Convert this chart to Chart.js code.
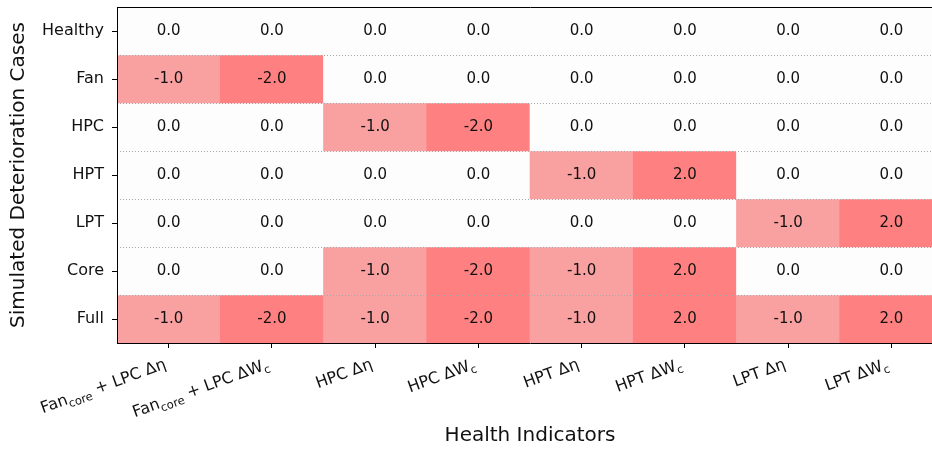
<!DOCTYPE html>
<html><head><meta charset="utf-8">
<script src="https://cdn.jsdelivr.net/npm/chart.js@4.4.0/dist/chart.umd.min.js"></script>
<style>html,body{margin:0;padding:0;background:#fff;overflow:hidden}#wrap{width:932px;height:454px;overflow:hidden}</style>
</head><body><div id="wrap"><canvas id="c" width="943" height="454"></canvas></div>
<script>
// ---- data ----
const cases = ['Healthy','Fan','HPC','HPT','LPT','Core','Full'];
const indicators = ['Fan_{core} + LPC Δη','Fan_{core} + LPC ΔW_{c}','HPC Δη','HPC ΔW_{c}','HPT Δη','HPT ΔW_{c}','LPT Δη','LPT ΔW_{c}'];
const healthy = [0,0,0,0,0,0,0,0];
const fan     = [-1,-2,0,0,0,0,0,0];
const hpc     = [0,0,-1,-2,0,0,0,0];
const hpt     = [0,0,0,0,-1,2,0,0];
const lpt     = [0,0,0,0,0,0,-1,2];
const core    = [0,0,-1,-2,-1,2,0,0];
const full    = [-1,-2,-1,-2,-1,2,-1,2];
const rows = [healthy, fan, hpc, hpt, lpt, core, full];

// ---- style ----
const FONT = '"DejaVu Sans", sans-serif';
const C_ZERO = '#fdfdfd', C_ONE = 'rgb(249,160,160)', C_TWO = 'rgb(255,128,128)';
const colorFor = v => v === 0 ? C_ZERO : (Math.abs(v) === 1 ? C_ONE : C_TWO);

function parseLabel(s) {
  const segs = []; const re = /_\{([^}]*)\}/g; let last = 0, m;
  while ((m = re.exec(s))) {
    if (m.index > last) segs.push({t: s.slice(last, m.index), sub: false});
    segs.push({t: m[1], sub: true}); last = re.lastIndex;
  }
  if (last < s.length) segs.push({t: s.slice(last), sub: false});
  return segs;
}

const cellText = {
  id: 'cellText',
  afterDatasetsDraw(chart) {
    const ctx = chart.ctx; ctx.save();
    ctx.font = '15px ' + FONT; ctx.fillStyle = '#111';
    ctx.textAlign = 'center'; ctx.textBaseline = 'middle';
    chart.data.datasets.forEach((ds, i) => {
      chart.getDatasetMeta(i).data.forEach((el, j) => {
        const p = el.getProps(['x','y','base'], true);
        ctx.fillText(ds.values[j].toFixed(1), p.x, (p.y + p.base) / 2);
      });
    });
    ctx.restore();
  }
};

const xLabels = {
  id: 'xLabels',
  afterDraw(chart) {
    const sc = chart.scales.x, ctx = chart.ctx;
    const th = 20 * Math.PI / 180, h = 20;
    const MAIN = '16px ' + FONT, SUB = '11.5px ' + FONT;
    ctx.save(); ctx.fillStyle = '#111'; ctx.textBaseline = 'alphabetic'; ctx.textAlign = 'left';
    indicators.forEach((lab, i) => {
      const segs = parseLabel(lab); let w = 0;
      segs.forEach(s => { ctx.font = s.sub ? SUB : MAIN; s.w = ctx.measureText(s.t).width; w += s.w; });
      const x = sc.getPixelForTick(i), y0 = sc.top + 11;
      ctx.save(); ctx.translate(x - h * Math.sin(th), y0); ctx.rotate(-th);
      let cx = -w;
      segs.forEach(s => { ctx.font = s.sub ? SUB : MAIN; ctx.fillText(s.t, cx, s.sub ? 19 : 15); cx += s.w; });
      ctx.restore();
    });
    ctx.restore();
  }
};

const datasets = rows.map((vals, i) => ({
  label: cases[i],
  data: vals.map(() => [i - 0.5, i + 0.5]),
  values: vals,
  backgroundColor: vals.map(colorFor),
  borderWidth: 0,
  barPercentage: 1,
  categoryPercentage: 1,
  grouped: false
}));

new Chart(document.getElementById('c'), {
  type: 'bar',
  data: { labels: indicators, datasets },
  plugins: [cellText, xLabels],
  options: {
    responsive: false, animation: false, devicePixelRatio: 1,
    layout: { padding: { top: 7, right: 0, bottom: 0, left: 0 } },
    plugins: { legend: { display: false }, tooltip: { enabled: false } },
    scales: {
      x: {
        type: 'category', offset: true,
        grid: { display: true, drawOnChartArea: false, drawTicks: true, tickLength: 5, color: '#000', tickColor: '#000', offset: false },
        border: { display: true, color: '#000', width: 1, z: 2 },
        ticks: { display: false },
        title: { display: true, text: 'Health Indicators', color: '#111', font: { size: 20, family: FONT }, padding: { top: 76, bottom: 6 } }
      },
      x2: {
        type: 'category', position: 'top', display: true,
        grid: { display: false, drawTicks: false },
        ticks: { display: false },
        border: { display: true, color: '#000', width: 1, z: 2 }
      },
      y: {
        type: 'linear', reverse: true, min: -0.5, max: 6.5,
        afterBuildTicks: axis => { axis.ticks = cases.map((_, i) => ({ value: i })); },
        afterFit: axis => { axis.paddingTop = 0; axis.paddingBottom = 0; },
        grid: { display: true, drawOnChartArea: false, drawTicks: true, tickLength: 5, color: '#000', tickColor: '#000' },
        border: { display: true, color: '#000', width: 1, z: 2 },
        ticks: { autoSkip: false, padding: 8, color: '#111', font: { size: 16, family: FONT }, callback: v => cases[v] },
        title: { display: true, text: 'Simulated Deterioration Cases', color: '#111', font: { size: 20, family: FONT }, padding: { top: 7, bottom: 3 } }
      },
      y2: {
        type: 'linear', position: 'right', reverse: true, min: -0.5, max: 6.5, display: true,
        ticks: { display: false, stepSize: 1 },
        grid: { display: true, drawTicks: false, color: '#a8a8a8', lineWidth: 1, z: 1 },
        border: { display: false, dash: [1, 2] }
      }
    }
  }
});
</script>
</body></html>
